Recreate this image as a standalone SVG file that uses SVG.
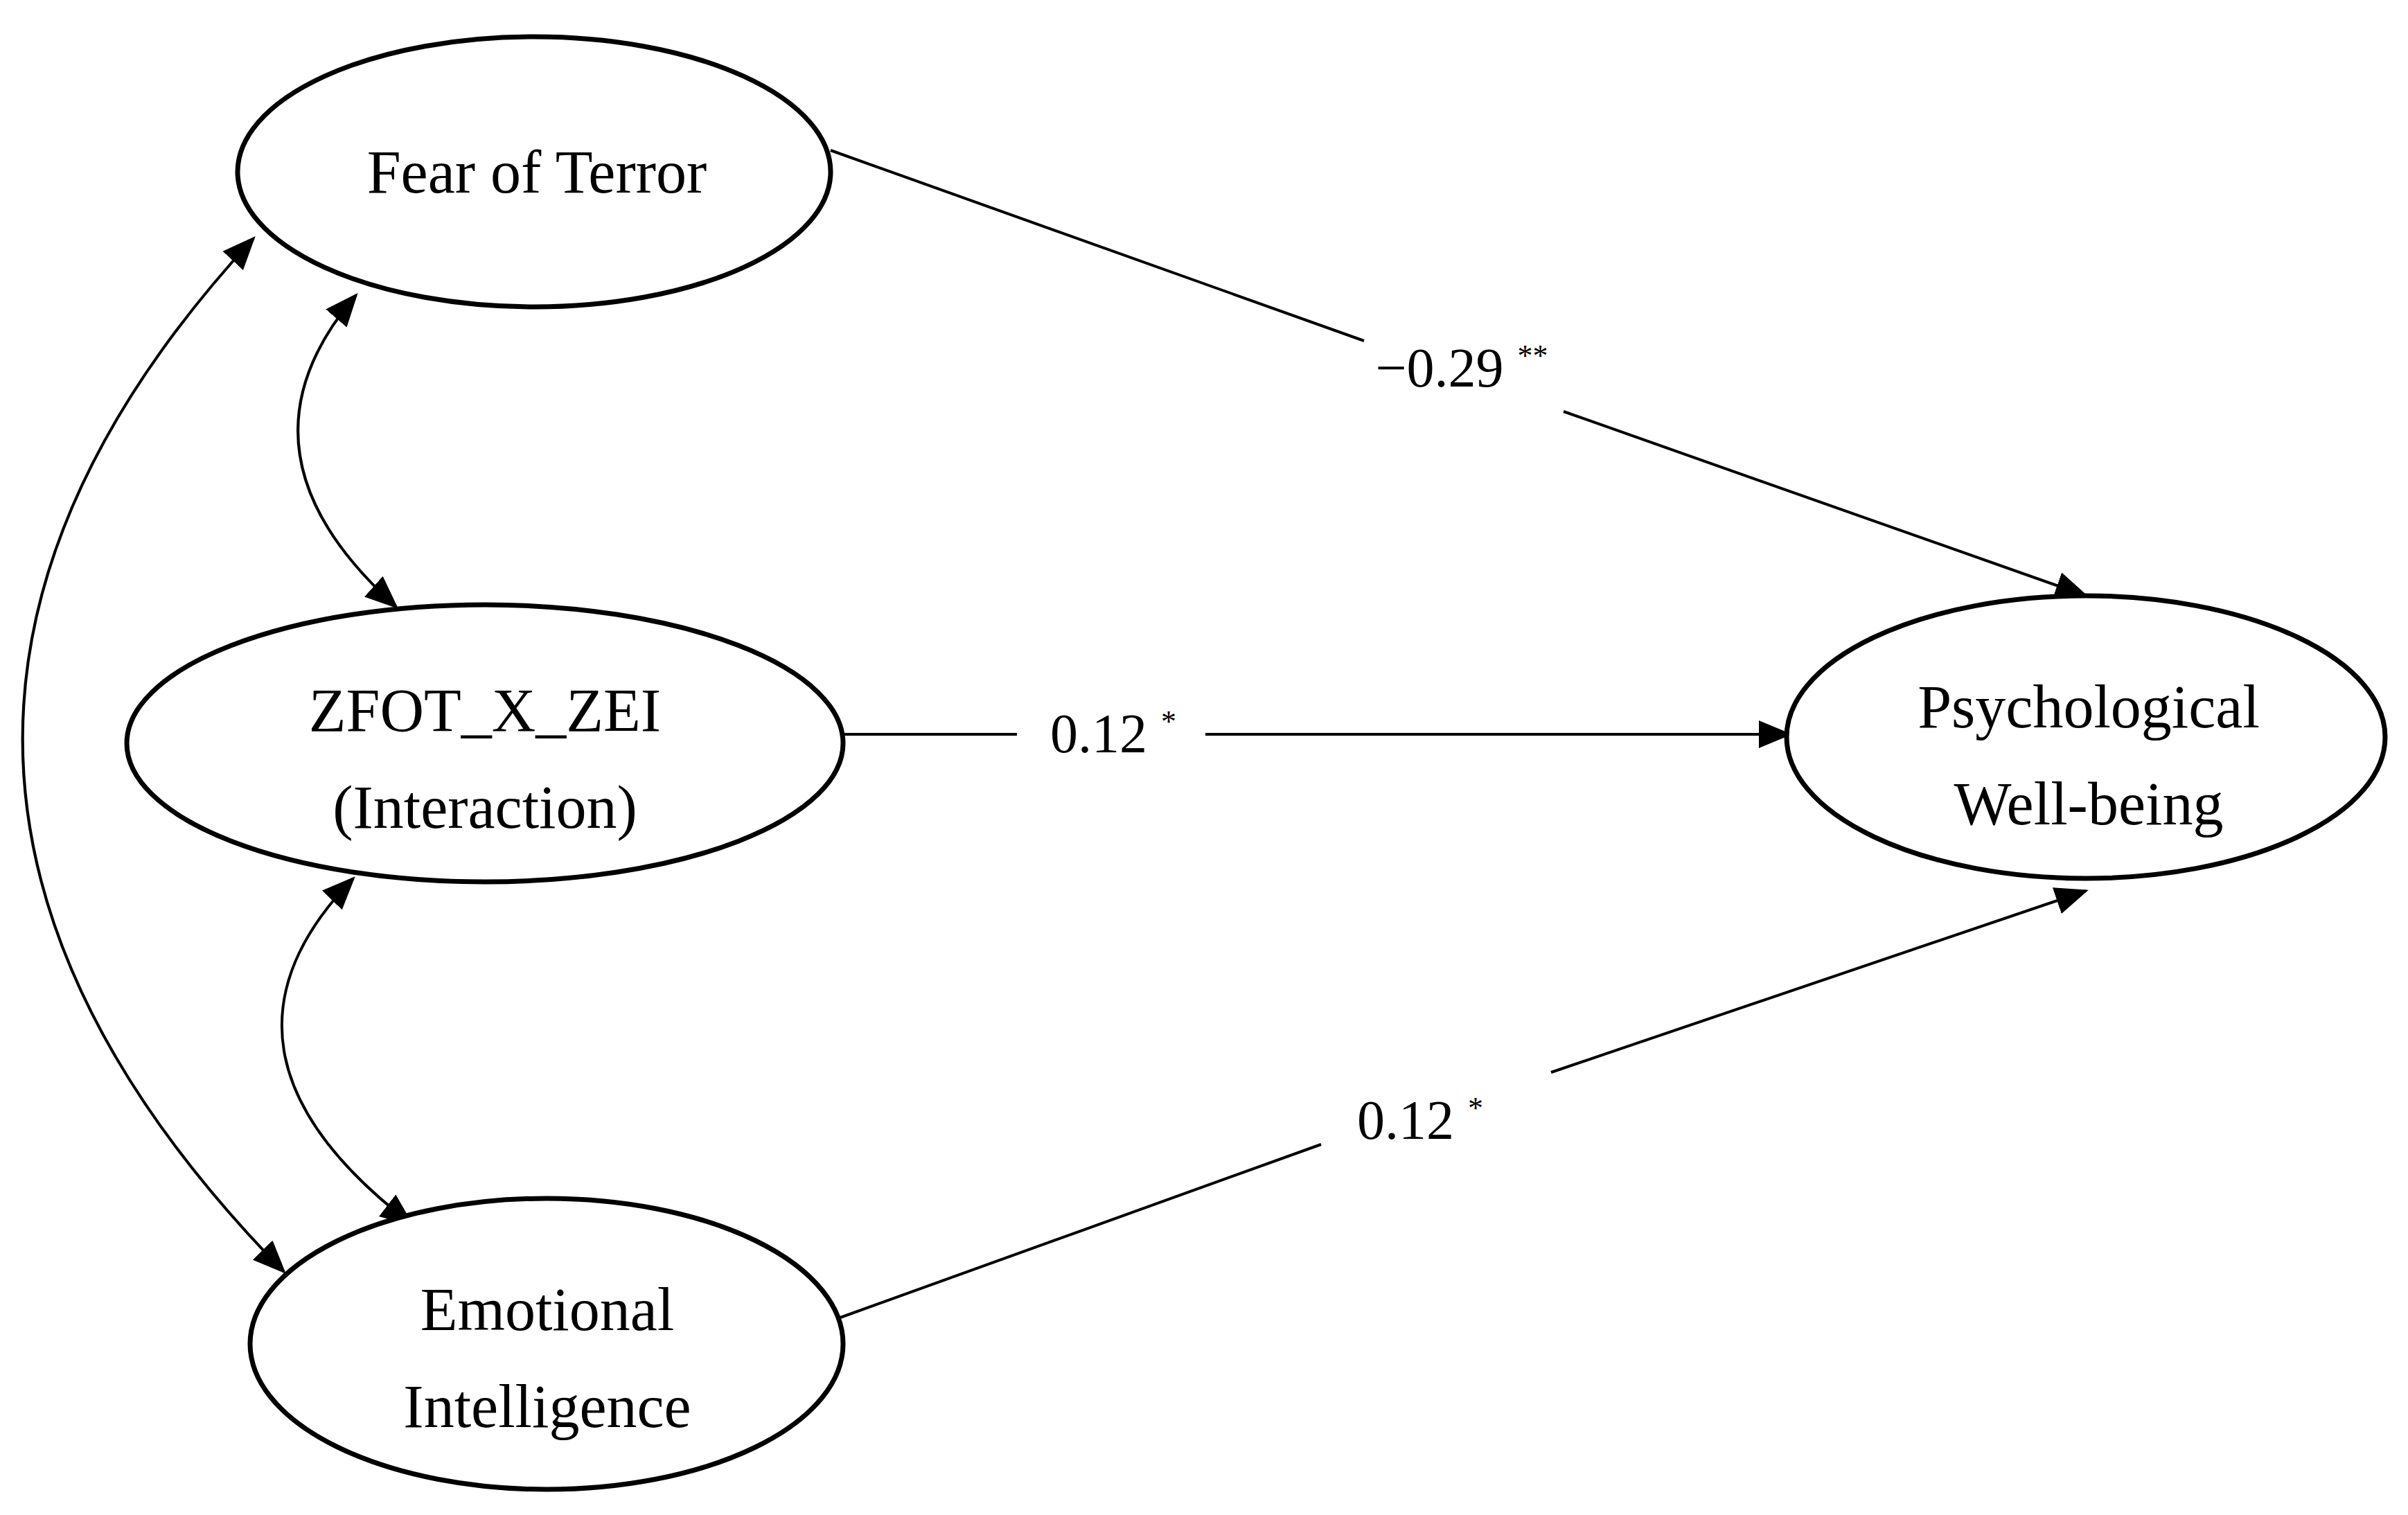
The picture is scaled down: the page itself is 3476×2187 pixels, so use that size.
<svg xmlns="http://www.w3.org/2000/svg" width="3476" height="2187" viewBox="0 0 3476 2187">
<style>
.n{fill:#fff;stroke:#000;stroke-width:7}
.t{font-family:"Liberation Serif",serif;font-size:88px;text-anchor:middle;fill:#000}
.l{font-family:"Liberation Serif",serif;font-size:80px;text-anchor:middle;fill:#000}
.c{fill:none;stroke:#000;stroke-width:4}
</style>
<defs>
<marker id="a" viewBox="0 0 12 10" refX="11" refY="5" markerWidth="12" markerHeight="10" markerUnits="userSpaceOnUse" orient="auto-start-reverse"><path d="M0,0L12,5L0,10z"/></marker>
<marker id="b" viewBox="0 0 12 10" refX="11" refY="5" markerWidth="48" markerHeight="40" markerUnits="userSpaceOnUse" orient="auto-start-reverse"><path d="M0,0L12,5L0,10z"/></marker>
</defs>
<rect width="3476" height="2187" fill="#fff"/>
<g id="connectors">
<path class="c" d="M1199,217L1969,492"/>
<path class="c" d="M2257,594L3011,860" marker-end="url(#b)"/>
<path class="c" d="M1219,1060L1468,1060"/>
<path class="c" d="M1740,1060L2583,1060" marker-end="url(#b)"/>
<path class="c" d="M1199,1907L1907,1652"/>
<path class="c" d="M2239,1548L3011,1286" marker-end="url(#b)"/>
<path class="c" d="M366,344Q-322,1090 410,1836" marker-start="url(#b)" marker-end="url(#b)"/>
<path class="c" d="M514,426Q321,651 572,876" marker-start="url(#b)" marker-end="url(#b)"/>
<path class="c" d="M510,1268Q268,1517 594,1767" marker-start="url(#b)" marker-end="url(#b)"/>
<text class="l" x="2110" y="558">−0.29 <tspan font-size="44" dy="-30">**</tspan></text>
<text class="l" x="1607" y="1086">0.12 <tspan font-size="44" dy="-30">*</tspan></text>
<text class="l" x="2050" y="1644">0.12 <tspan font-size="44" dy="-30">*</tspan></text>
</g>
<g id="fot"><ellipse class="n" cx="771" cy="248" rx="428" ry="195"/><text class="t" x="775" y="278">Fear of Terror</text></g>
<g id="zfot"><ellipse class="n" cx="700" cy="1073" rx="517" ry="200"/><text class="t" x="700" y="1055">ZFOT_X_ZEI</text><text class="t" x="700" y="1195">(Interaction)</text></g>
<g id="ei"><ellipse class="n" cx="789" cy="1940" rx="428" ry="210"/><text class="t" x="790" y="1920">Emotional</text><text class="t" x="790" y="2060">Intelligence</text></g>
<g id="pwb"><ellipse class="n" cx="3011" cy="1064" rx="432" ry="204"/><text class="t" x="3015" y="1050">Psychological</text><text class="t" x="3015" y="1190">Well-being</text></g>
</svg>
